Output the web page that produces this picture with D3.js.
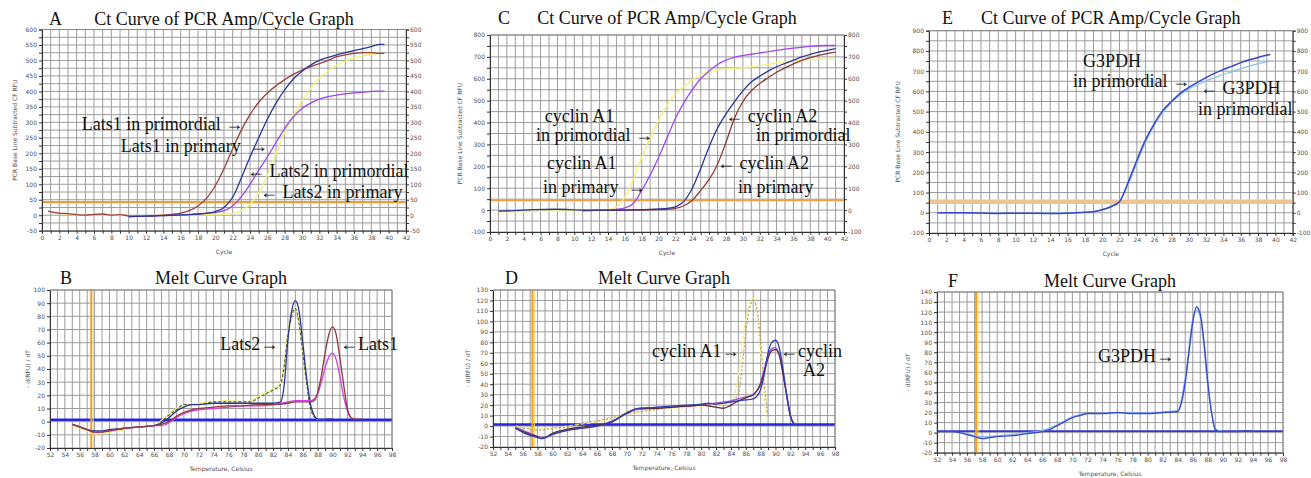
<!DOCTYPE html>
<html>
<head>
<meta charset="utf-8">
<script src="https://cdn.jsdelivr.net/npm/d3@7"></script>
<style>
body{margin:0;background:#fff;}
.axis text{font-family:"DejaVu Sans",Verdana,sans-serif;font-size:6px;fill:#505050;}
.axis path,.axis line{stroke:#333;}
.axt{font-family:"DejaVu Sans",Verdana,sans-serif;font-size:6px;fill:#505050;}
.ttl{font-family:"Liberation Serif","Times New Roman",serif;font-size:18px;fill:#111;}
.note{font-family:"Liberation Serif","Times New Roman",serif;font-size:18px;fill:#111;}
.grid line{stroke:#9c9c9c;stroke-width:1;}
</style>
</head>
<body>
<svg width="1311" height="478"></svg>
<script>

// ---- A: Lats1 / Lats2 amplification (cycle, RFU)
var lats1Primordial = [[0.7,13],[1,11],[2,7],[3,5],[4,2],[5,0],[6,3],[7,4],[8,0],[9,2],[10,-2],[11,-3],[12,-3],[13,-2],[14,0],[15,3],[16,7],[17,15],[18,30],[19,55],[20,96],[21,150],[22,215],[23,275],[24,325],[25,365],[26,395],[27,418],[28,438],[29,455],[30,469],[31,480],[32,490],[33,500],[34,512],[35,518],[36,523],[37,525],[38,525],[39,523],[39.5,523]];
var lats1Primary = [[10,-5],[11,-4],[12,-3],[13,-2],[14,-1],[15,0],[16,1],[17,2],[18,4],[19,7],[20,12],[21,25],[22,58],[23,120],[24,188],[25,250],[26,310],[27,362],[28,405],[29,440],[30,465],[31,485],[32,500],[33,510],[34,518],[35,525],[36,532],[37,538],[38,545],[39,552],[39.5,552]];
var lats2Primordial = [[10,-4],[12,-3],[14,-1],[16,0],[17,2],[18,4],[19,6],[20,9],[21,15],[22,30],[23,60],[24,100],[25,145],[26,188],[27,235],[28,280],[29,318],[30,345],[31,362],[32,375],[33,383],[34,388],[35,392],[36,395],[37,397],[38,400],[39,401],[39.5,401]];
var lats2Primary = [[1,8],[2,5],[3,3],[4,1],[5,0],[6,2],[7,1],[8,0],[9,0],[10,-1],[12,-2],[14,-1],[16,0],[18,1],[20,2],[21,3],[22,5],[23,15],[24,35],[25,72],[26,130],[27,200],[28,268],[29,322],[30,370],[31,410],[32,442],[33,466],[34,485],[35,498],[36,508],[37,515],[38,520],[39,523],[39.5,523]];

// ---- C: cyclin A1 / A2 amplification
var a1Primordial = [[1,-8],[3,-8],[5,-5],[8,-3],[10,-2],[11,-1],[12,0],[13,0],[14,2],[15,15],[16,60],[17,140],[18,240],[19,330],[20,410],[21,480],[22,530],[23,565],[24,595],[25,620],[26,633],[27,640],[28,645],[30,650],[32,660],[34,672],[36,682],[38,688],[40,690],[41,690]];
var a1Primary = [[11,-3],[12,-2],[13,-1],[14,0],[15,3],[16,10],[17,30],[18,90],[19,160],[20,240],[21,330],[22,420],[23,490],[24,550],[25,600],[26,635],[27,665],[28,685],[29,698],[30,706],[31,712],[32,718],[34,730],[36,740],[38,748],[40,752],[41,752]];
var a2Primordial = [[1,-5],[3,-2],[5,2],[8,4],[11,0],[14,0],[17,1],[19,3],[20,5],[21,8],[22,15],[23,40],[24,100],[25,190],[26,290],[27,375],[28,440],[29,495],[30,545],[31,585],[32,612],[33,635],[34,655],[35,670],[36,685],[37,700],[38,712],[39,722],[40,730],[41,738]];
var a2Primary = [[11,-2],[14,-1],[17,0],[19,1],[20,2],[21,4],[22,8],[23,20],[24,45],[25,90],[26,140],[27,210],[28,310],[29,420],[30,495],[31,545],[32,578],[33,605],[34,630],[35,650],[36,668],[37,684],[38,697],[39,707],[40,715],[41,722]];

// ---- E: G3PDH amplification
var g3pdhAmpA = [[1,0],[4,0],[8,-3],[10,-2],[14,-3],[16,-2],[18,2],[19,5],[20,15],[21,30],[22,55],[23,150],[24,260],[25,360],[26,440],[27,505],[28,550],[29,590],[30,620],[31,645],[32,668],[33,690],[34,708],[35,725],[36,742],[37,756],[38,768],[39.4,782]];
var g3pdhAmpB = [[1,0],[4,0],[8,-2],[12,-2],[16,-1],[18,2],[19,6],[20,16],[21,32],[22,58],[23,140],[24,245],[25,350],[26,432],[27,498],[28,545],[29,583],[30,612],[31,633],[32,652],[33,668],[34,684],[35,698],[36,712],[37,725],[38,737],[39.4,750]];

// ---- B: melt Lats (temperature, -d(RFU)/dT)
var meltLats2Blue = [[55,-2],[56,-4],[57,-6],[58,-7],[59,-7],[60,-6],[62,-5],[64,-4],[66,-3],[67,-1],[68,3],[69,8],[70,11],[71,13],[72,13],[74,14],[76,14],[78,14],[80,14],[82,14],[83,15],[83.5,28],[84,62],[84.5,84],[85,92],[85.5,84],[86,60],[86.5,34],[87,14],[87.5,5],[88,2],[90,2]];
var meltLats2Yellow = [[55,-3],[56,-5],[57,-7],[58,-9],[59,-9],[60,-8],[62,-6],[64,-4],[66,-3],[67,1],[68,6],[69,10],[70,12],[72,14],[74,15],[76,16],[78,15],[79,16],[80,19],[81,22],[82,25],[83,29],[83.5,45],[84,68],[84.5,82],[85,87],[85.5,76],[86,54],[86.5,32],[87,12],[87.5,5],[88,2],[89,2]];
var meltLats2Olive = [[55,-2],[57,-6],[58,-8],[60,-7],[62,-5],[64,-4],[66,-3],[67,0],[68,5],[69,9],[70,13],[72,13],[74,15],[76,15],[78,15],[79,15],[80,18],[81,21],[82,24],[83,28],[83.5,42],[84,66],[84.5,80],[85,86],[85.5,74],[86,52],[86.5,30],[87,11],[87.5,4],[88,2]];
var meltLats1Brown = [[55,-2],[56,-4],[57,-6],[58,-8],[59,-8],[60,-7],[62,-5],[64,-4],[66,-3],[67,-2],[68,0],[69,4],[70,7],[71,9],[72,10],[74,11],[76,12],[78,12],[80,13],[82,13],[84,14],[85,15],[86,15],[87,15],[87.5,16],[88,22],[88.5,35],[89,52],[89.5,66],[90,72],[90.5,66],[91,48],[91.5,28],[92,10],[92.5,3],[93,2],[94,2]];
var meltLats1Magenta = [[55,-2],[57,-6],[58,-8],[60,-7],[62,-5],[64,-4],[66,-3],[67,-3],[68,-1],[69,3],[70,6],[71,8],[72,9],[74,10],[76,11],[78,12],[80,12],[82,13],[84,15],[85,16],[86,16],[87,16],[87.5,17],[88,21],[88.5,30],[89,41],[89.5,49],[90,52],[90.5,47],[91,34],[91.5,19],[92,8],[92.5,3],[93,2]];

// ---- D: melt cyclin
var meltA1Yellow = [[55,0],[56,-1],[57,-2],[58,-3],[60,-2],[62,0],[64,2],[66,4],[68,7],[70,11],[72,14],[74,16],[76,17],[78,18],[80,19],[82,20],[84,23],[84.5,30],[85,50],[85.5,78],[86,102],[86.5,117],[87,122],[87.5,110],[88,70],[88.5,30],[89,4]];
var meltA1Tan = [[55,-1],[57,-3],[58,-4],[60,-2],[62,-1],[64,3],[66,5],[68,8],[70,12],[72,14],[74,16],[76,18],[78,19],[80,20],[82,21],[84,24],[85,30],[85.5,55],[86,90],[86.5,112],[87,120],[87.5,112],[88,80],[88.5,40],[89,8]];
var meltA2Blue = [[55,-2],[56,-6],[57,-9],[58,-11],[58.5,-12],[59,-11],[60,-8],[62,-4],[64,-2],[66,0],[68,4],[69,8],[70,12],[71,16],[72,17],[74,18],[76,19],[78,20],[80,21],[81,22],[82,21],[83,22],[84,23],[85,24],[86,25],[87,26],[88,35],[88.5,50],[89,70],[89.5,80],[90,82],[90.5,75],[91,55],[91.5,30],[92,10],[92.5,2],[93,1]];
var meltA2Brown = [[55,-2],[56,-5],[57,-8],[58,-10],[58.5,-12],[59,-11],[60,-7],[62,-3],[64,-1],[66,1],[68,4],[70,13],[71,16],[72,17],[74,17],[76,18],[78,19],[80,20],[82,18],[83,17],[84,20],[85,24],[86,27],[87,30],[88,40],[88.5,52],[89,65],[89.5,72],[90,73],[90.5,68],[91,50],[91.5,30],[92,10],[92.5,2]];
var meltA2Purple = [[55,-1],[56,-4],[57,-7],[58,-10],[59,-11],[60,-8],[62,-4],[64,-2],[66,0],[68,5],[70,12],[71,15],[72,16],[74,17],[76,18],[78,19],[80,20],[82,22],[84,24],[85,26],[86,28],[87,30],[88,42],[88.5,55],[89,68],[89.5,74],[90,75],[90.5,68],[91,50],[91.5,28],[92,9],[92.5,2]];

// ---- F: melt G3PDH
var meltG3pdh = [[52,1],[54,1],[55,0],[56,-2],[57,-4],[58,-6],[59,-5],[60,-4],[62,-3],[64,-1],[66,1],[67,3],[68,7],[69,11],[70,15],[71,17],[72,19],[74,19],[76,20],[78,19],[80,19],[82,20],[84,21],[84.5,30],[85,50],[85.5,80],[86,110],[86.5,125],[87,118],[87.5,90],[88,50],[88.5,20],[89,3],[89.5,1],[92,1],[93,2],[94,1]];
var meltG3pdhLight = [[55,0],[56,-1],[57,-3],[58,-4],[60,-3],[62,-2],[64,0],[66,2],[68,8],[70,16],[72,19],[76,20],[80,20],[84,22],[85,55],[86,112],[86.5,122],[87,115],[88,48],[89,4],[90,1]];

var ampTitle = "Ct Curve of PCR Amp/Cycle Graph";
var meltTitle = "Melt Curve Graph";
var ampYTitle = "PCR Base Line Subtracted CF RFU";
var meltYTitle = "- d(RFU) / dT";

var svg = d3.select("svg");
svg.append("rect").attr("width",1311).attr("height",478).attr("fill","#fff");

var panels = [
	{letter:"A", title:ampTitle, left:42, right:406, top:29.5, bottom:230.7,
	 xDomain:[0,42], xGrid:1, xLab:2, yDomain:[-50,600], yGrid:25, yLab:50,
	 right2:true, xTitle:"Cycle", yTitle:ampYTitle, yTitleDx:-25, letterDx:7, titleDy:-5,
	 hLines:[{v:42,c:"#f0a030",w:2.2}],
	 series:[
		{d:lats2Primary,c:"#f2f27e",w:1.4},
		{d:lats1Primordial,c:"#9a4040",w:1.3},
		{d:lats2Primordial,c:"#9a48e6",w:1.3},
		{d:lats1Primary,c:"#2c3596",w:1.3}],
	 notes:[
		{t:"Lats1 in primordial \u2192",x:4.6,y:275},
		{t:"Lats1 in primary\u00a0 \u2192",x:9.1,y:204},
		{t:"\u2190 Lats2 in primordial",x:23.65,y:123},
		{t:"\u2190 Lats2 in primary",x:25.15,y:56}]},
	{letter:"C", title:ampTitle, left:490, right:844, top:35, bottom:232,
	 xDomain:[0,42], xGrid:1, xLab:2, yDomain:[-100,800], yGrid:50, yLab:100,
	 right2:true, xTitle:"Cycle", yTitle:ampYTitle, yTitleDx:-28, letterDx:8, titleDy:-11,
	 hLines:[{v:45,c:"#f0a040",w:2.2}],
	 series:[
		{d:a1Primordial,c:"#f2f27a",w:1.4},
		{d:a1Primary,c:"#a048f0",w:1.3},
		{d:a2Primary,c:"#8e3a36",w:1.3},
		{d:a2Primordial,c:"#2c3596",w:1.3}],
	 notes:[
		{t:"cyclin A1",x:6.5,y:402},
		{t:"in primordial \u2192",x:5.46,y:318},
		{t:"cyclin A1",x:6.76,y:187},
		{t:"in primary\u00a0 \u2192",x:6.29,y:76},
		{t:"\u2190 cyclin A2",x:27.9,y:402},
		{t:"in primordial",x:31.56,y:318},
		{t:"\u2190 cyclin A2",x:26.93,y:187},
		{t:"in primary",x:29.42,y:76}]},
	{letter:"E", title:ampTitle, left:929, right:1292.7, top:30.7, bottom:233,
	 xDomain:[0,42], xGrid:1, xLab:2, yDomain:[-100,900], yGrid:50, yLab:100,
	 right2:true, xTitle:"Cycle", yTitle:ampYTitle, yTitleDx:-29, letterDx:13, titleDy:-7,
	 hLines:[{v:54,c:"#ecc594",w:4.5}],
	 series:[
		{d:g3pdhAmpB,c:"#86c4ee",w:1.3},
		{d:g3pdhAmpA,c:"#3a44c4",w:1.5}],
	 notes:[
		{t:"G3PDH",x:17.78,y:721},
		{t:"in primordial \u2192",x:16.63,y:622},
		{t:"\u2190 G3PDH",x:31.3,y:587},
		{t:"in primordial",x:31.06,y:483}]},
	{letter:"B", title:meltTitle, left:50, right:392, top:290, bottom:448,
	 xDomain:[52,98], xGrid:1, xLab:2, yDomain:[-20,100], yGrid:10, yLab:10,
	 right2:false, xTitle:"Temperature, Celsius", yTitle:meltYTitle, yTitleDx:-20, letterDx:10, titleDy:-6,
	 hLines:[{v:1.5,c:"#2525e0",w:2.5}], vLines:[{v:57.55,c:"#f0a020",w:2}],
	 series:[
		{d:meltLats2Yellow,c:"#eeee70",w:1.3},
		{d:meltLats2Olive,c:"#4d5a2a",w:1.1,dash:"3,2"},
		{d:meltLats2Blue,c:"#2c3596",w:1.3},
		{d:meltLats1Magenta,c:"#d040e8",w:1.3},
		{d:meltLats1Brown,c:"#8e3a40",w:1.3}],
	 notes:[
		{t:"Lats2\u2192",x:74.9,y:54.4},
		{t:"\u2190Lats1",x:91,y:54.4}]},
	{letter:"D", title:meltTitle, left:493, right:835, top:290, bottom:447,
	 xDomain:[52,98], xGrid:1, xLab:2, yDomain:[-20,130], yGrid:10, yLab:10,
	 right2:false, xTitle:"Temperature, Celsius", yTitle:meltYTitle, yTitleDx:-23, letterDx:12, titleDy:-6,
	 hLines:[{v:1.5,c:"#2525e0",w:2.5}], vLines:[{v:57.3,c:"#f0a020",w:2}],
	 series:[
		{d:meltA1Yellow,c:"#eeee70",w:1.3,dash:"4,2"},
		{d:meltA1Tan,c:"#c09060",w:1.1,dash:"2,2"},
		{d:meltA2Purple,c:"#a050d0",w:1.2},
		{d:meltA2Brown,c:"#5a2a30",w:1.3},
		{d:meltA2Blue,c:"#3040b0",w:1.3}],
	 notes:[
		{t:"cyclin A1\u2192",x:73.4,y:66},
		{t:"\u2190cyclin",x:90.6,y:66},
		{t:"A2",x:93.7,y:47.8}]},
	{letter:"F", title:meltTitle, left:937, right:1283, top:292, bottom:452.7,
	 xDomain:[52,98], xGrid:1, xLab:2, yDomain:[-20,140], yGrid:10, yLab:10,
	 right2:false, xTitle:"Temperature, Celsius", yTitle:meltYTitle, yTitleDx:-27, letterDx:11, titleDy:-5,
	 hLines:[{v:1.5,c:"#3535d8",w:1.6}], vLines:[{v:57.2,c:"#f0a020",w:2}],
	 series:[
		{d:meltG3pdhLight,c:"#8ab8f0",w:1.2},
		{d:meltG3pdh,c:"#3a4ad0",w:1.4}],
	 notes:[
		{t:"G3PDH\u2192",x:73.4,y:70}]}
];

panels.forEach(drawPanel);

function drawPanel(p){
	var x = d3.scaleLinear().domain(p.xDomain).range([p.left, p.right]);
	var y = d3.scaleLinear().domain(p.yDomain).range([p.bottom, p.top]);
	var g = svg.append("g");

	var xs = d3.range(p.xDomain[0], p.xDomain[1] + 0.001, p.xGrid);
	var ys = d3.range(p.yDomain[0], p.yDomain[1] + 0.001, p.yGrid);

	var grid = g.append("g").attr("class","grid");
	grid.selectAll(".gx").data(xs).enter().append("line")
		.attr("x1", function(d){return x(d);}).attr("x2", function(d){return x(d);})
		.attr("y1", p.top).attr("y2", p.bottom);
	grid.selectAll(".gy").data(ys).enter().append("line")
		.attr("y1", function(d){return y(d);}).attr("y2", function(d){return y(d);})
		.attr("x1", p.left).attr("x2", p.right);

	(p.hLines || []).forEach(function(h){
		g.append("line").attr("x1", p.left).attr("x2", p.right)
			.attr("y1", y(h.v)).attr("y2", y(h.v))
			.attr("stroke", h.c).attr("stroke-width", h.w);
	});
	(p.vLines || []).forEach(function(v){
		g.append("line").attr("y1", p.top).attr("y2", p.bottom)
			.attr("x1", x(v.v)).attr("x2", x(v.v))
			.attr("stroke", v.c).attr("stroke-width", v.w);
		g.append("line").attr("y1", p.top).attr("y2", p.bottom)
			.attr("x1", x(v.v) + 2).attr("x2", x(v.v) + 2)
			.attr("stroke", "#f6d070").attr("stroke-width", 1);
	});

	var line = d3.line()
		.x(function(d){return x(d[0]);})
		.y(function(d){return y(d[1]);})
		.curve(d3.curveMonotoneX);
	p.series.forEach(function(s){
		g.append("path").datum(s.d).attr("d", line)
			.attr("fill","none").attr("stroke", s.c).attr("stroke-width", s.w)
			.attr("stroke-dasharray", s.dash || null);
	});

	// axes
	var fmtX = function(d){ return (Math.round(d) % p.xLab === 0) ? d : ""; };
	var fmtY = function(d){ return (Math.round(d) % p.yLab === 0) ? d : ""; };
	var axes = [];
	axes.push(g.append("g").attr("class","axis").attr("transform","translate(0," + p.bottom + ")")
		.call(d3.axisBottom(x).tickValues(xs).tickFormat(fmtX).tickSize(3).tickPadding(2)));
	axes.push(g.append("g").attr("class","axis").attr("transform","translate(" + p.left + ",0)")
		.call(d3.axisLeft(y).tickValues(ys).tickFormat(fmtY).tickSize(3).tickPadding(2)));
	if(p.right2){
		axes.push(g.append("g").attr("class","axis").attr("transform","translate(" + p.right + ",0)")
			.call(d3.axisRight(y).tickValues(ys).tickFormat(fmtY).tickSize(3).tickPadding(1)));
	} else {
		g.append("line").attr("x1", p.right).attr("x2", p.right).attr("y1", p.top).attr("y2", p.bottom).attr("stroke","#888");
	}
	axes.forEach(function(a){
		a.selectAll("text").attr("fill","#505050");
		a.selectAll("line").attr("stroke","#333");
		a.select(".domain").attr("stroke","#333");
	});
	g.append("line").attr("x1", p.left).attr("x2", p.right).attr("y1", p.top).attr("y2", p.top).attr("stroke","#888");

	// titles
	var cx = (p.left + p.right) / 2;
	g.append("text").attr("class","ttl").attr("x", p.left + p.letterDx).attr("y", p.top + p.titleDy).text(p.letter);
	g.append("text").attr("class","ttl").attr("x", cx).attr("y", p.top + p.titleDy)
		.attr("text-anchor","middle").text(p.title);
	g.append("text").attr("class","axt").attr("x", cx).attr("y", p.bottom + 23)
		.attr("text-anchor","middle").text(p.xTitle);
	g.append("text").attr("class","axt")
		.attr("transform","translate(" + (p.left + p.yTitleDx) + "," + ((p.top + p.bottom) / 2) + ") rotate(-90)")
		.attr("text-anchor","middle").text(p.yTitle);

	p.notes.forEach(function(n){
		g.append("text").attr("class","note").attr("x", x(n.x)).attr("y", y(n.y)).text(n.t);
	});
}
</script>
</body>
</html>
